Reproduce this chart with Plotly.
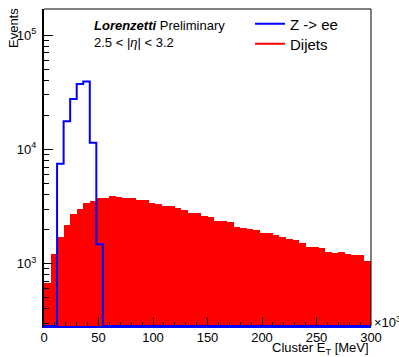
import numpy as np
import plotly.graph_objects as go

# ---------------- data ----------------
bin_width = 6                      # in units of 10^3 MeV
x_min, x_max = 0, 300
bin_edges = np.arange(x_min, x_max + bin_width, bin_width)
bin_centers = bin_edges[:-1] + bin_width / 2

zee_counts = [0, 0, 7470, 17600, 27600, 37300, 39400, 11400, 1470, 0,
              0, 0, 0, 0, 0, 0, 0, 0, 0, 0,
              0, 0, 0, 0, 0, 0, 0, 0, 0, 0,
              0, 0, 0, 0, 0, 0, 0, 0, 0, 0,
              0, 0, 0, 0, 0, 0, 0, 0, 0, 0]

dijet_counts = [677, 1222, 1707, 2190, 2735, 3000, 3364, 3523, 3770, 3740,
                3925, 3790, 3770, 3740, 3570, 3570, 3364, 3340, 3185, 3185,
                3083, 2963, 2788, 2788, 2625, 2553, 2375, 2375, 2328, 2089,
                2062, 2023, 1954, 1866, 1841, 1792, 1707, 1641, 1597, 1525,
                1406, 1406, 1380, 1256, 1239, 1265, 1208, 1175, 1185, 1047]

y_log_range = [2.452, 5.23]
x_major_ticks = [0, 50, 100, 150, 200, 250, 300]
y_major_ticks = [1e3, 1e4, 1e5]
y_major_text = ["10<sup>3</sup>", "10<sup>4</sup>", "10<sup>5</sup>"]
y_minor_ticks = [m * 10 ** e for e in (2, 3, 4) for m in range(2, 10)
                 if y_log_range[0] <= np.log10(m * 10 ** e) <= y_log_range[1]]

FONT = "Liberation Sans, Arial, sans-serif"
RED = "#ff0000"
BLUE = "#0000ff"

# ROOT draws empty bins of a log histogram at the axis minimum
y_floor = 10 ** y_log_range[0]
zee_step = [max(c, y_floor) for c in zee_counts] + [max(zee_counts[-1], y_floor)]

fig = go.Figure()

fig.add_trace(go.Bar(
    x=bin_centers, y=dijet_counts, width=bin_width,
    marker=dict(color=RED, line=dict(width=0)),
    showlegend=False, name="Dijets",
))

fig.add_trace(go.Scatter(
    x=bin_edges, y=zee_step, mode="lines", line_shape="hv",
    line=dict(color=BLUE, width=2), name="Z -> ee", legend="legend",
))

# legend entry for the dijet histogram (drawn as a line, like ROOT's "l" option)
fig.add_trace(go.Scatter(
    x=[None], y=[None], mode="lines",
    line=dict(color=RED, width=2), name="Dijets", legend="legend2",
))

# overlay axis for the log minor ticks
fig.add_trace(go.Scatter(x=[None], y=[None], yaxis="y2", showlegend=False,
                         hoverinfo="skip"))

PW, PH = 327, 318   # plot area size in px
L, T = 44, 8        # plot area offset in px


def px_x(p):
    return (p - L) / PW


def px_y(p):
    return (T + PH - p) / PH


legend_style = dict(
    xanchor="left", yanchor="middle",
    bgcolor="rgba(0,0,0,0)", borderwidth=0,
    font=dict(family=FONT, size=15, color="black"),
    itemwidth=30, tracegroupgap=0,
)

fig.update_layout(
    width=399, height=357, autosize=False,
    margin=dict(l=44, r=28, t=8, b=31),
    paper_bgcolor="white", plot_bgcolor="white",
    font=dict(family=FONT, size=13, color="black"),
    bargap=0,
    showlegend=True,
    legend=dict(x=px_x(250), y=px_y(24), **legend_style),
    legend2=dict(x=px_x(250), y=px_y(44), **legend_style),
    xaxis=dict(
        range=[x_min, x_max],
        tickvals=x_major_ticks, ticks="inside", ticklen=9, tickwidth=1,
        tickcolor="black",
        minor=dict(dtick=10, ticks="inside", ticklen=4, tickwidth=1,
                   tickcolor="black"),
        showline=True, linecolor=BLUE, linewidth=2,
        showgrid=False, zeroline=False,
        tickfont=dict(family=FONT, size=13),
        layer="above traces",
        ticklabelstandoff=-2,
    ),
    yaxis=dict(
        type="log", range=y_log_range,
        tickvals=y_major_ticks, ticktext=y_major_text,
        ticks="inside", ticklen=9, tickwidth=1, tickcolor="black",
        showline=True, linecolor="black", linewidth=2,
        showgrid=False, zeroline=False,
        tickfont=dict(family=FONT, size=13),
        layer="above traces",
        ticklabelstandoff=3,
    ),
    yaxis2=dict(
        type="log", range=y_log_range, overlaying="y", side="left",
        anchor="x",
        tickvals=y_minor_ticks, ticks="inside", ticklen=5, tickwidth=1,
        tickcolor="black", showticklabels=False, showline=False,
        showgrid=False, zeroline=False, layer="above traces",
    ),
    shapes=[
        dict(type="line", xref="paper", yref="paper", x0=0, x1=1, y0=1, y1=1,
             line=dict(color="black", width=1)),
        dict(type="line", xref="paper", yref="paper", x0=1, x1=1, y0=0, y1=1,
             line=dict(color="black", width=1)),
    ],
    annotations=[
        dict(text="×10<sup>3</sup>", xref="paper", yref="paper",
             x=px_x(372), y=px_y(322), xanchor="left",
             yanchor="middle", showarrow=False, font=dict(size=13)),
        dict(text="Cluster E<sub>T</sub> [MeV]", xref="paper", yref="paper",
             x=1.0, y=px_y(349), xanchor="right", yanchor="middle",
             showarrow=False, font=dict(size=13)),
        dict(text="Events", xref="paper", yref="paper", textangle=-90,
             x=px_x(13), y=px_y(5), xanchor="center",
             yanchor="top", showarrow=False, font=dict(size=13)),
        dict(text="<b><i>Lorenzetti</i></b> Preliminary", xref="paper",
             yref="paper", x=px_x(92), y=px_y(25),
             xanchor="left", yanchor="middle", showarrow=False,
             font=dict(size=13)),
        dict(text="2.5 < |<i>η</i>| < 3.2", xref="paper", yref="paper",
             x=px_x(92), y=px_y(42), xanchor="left",
             yanchor="middle", showarrow=False, font=dict(size=13)),
    ],
)

# the page is photographed at 399x357: drop the browser's default body margin
fig.write_html("out.html",
               config={"displayModeBar": False},
               post_script="document.body.style.margin='0';")
